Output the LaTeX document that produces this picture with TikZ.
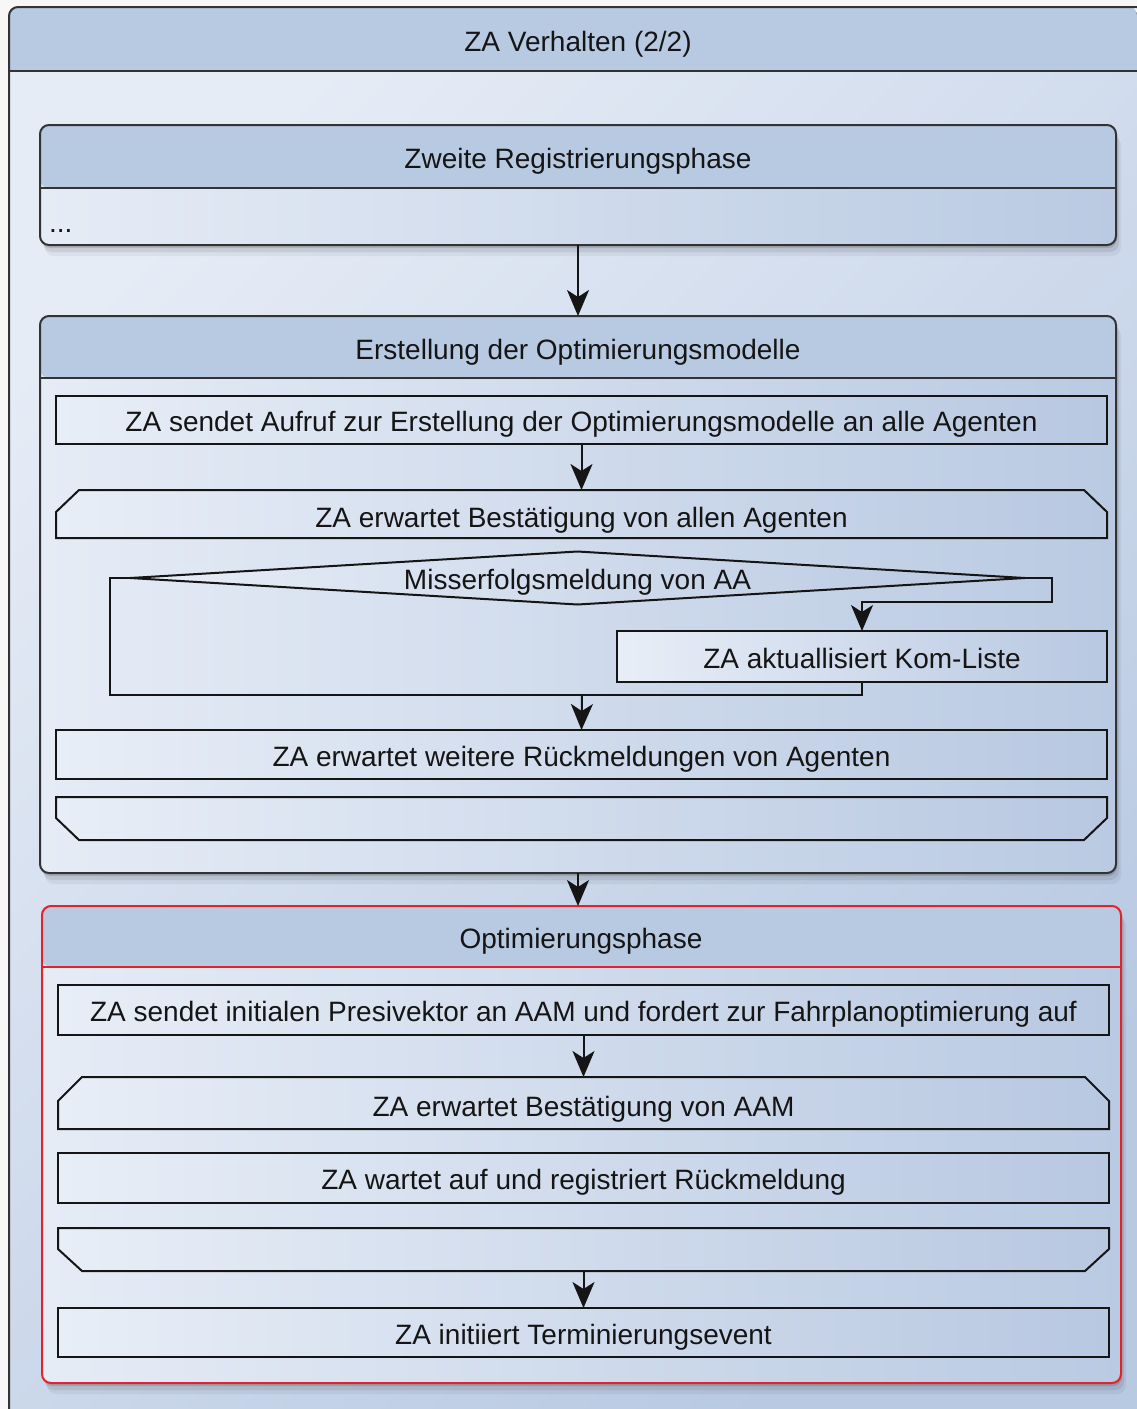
\documentclass[tikz,border=0pt]{standalone}
\usepackage{fontspec}
\setmainfont{Liberation Sans}
\usetikzlibrary{arrows.meta,shadows,shapes.geometric,calc}

\definecolor{headc}{HTML}{B8C9E2}
\definecolor{bodyL}{HTML}{E6ECF6}
\definecolor{bodyR}{HTML}{B9CAE2}
\definecolor{outL}{HTML}{E6ECF6}
\definecolor{outR}{HTML}{B8C9E2}
\definecolor{elL}{HTML}{E8EEF7}
\definecolor{elR}{HTML}{B8C8E1}
\definecolor{framec}{HTML}{333333}
\definecolor{redline}{HTML}{E0242C}
\definecolor{ink}{HTML}{151515}

\pgfdeclarelayer{back}
\pgfsetlayers{back,main}

\begin{document}
\begin{tikzpicture}[x=1pt,y=-1pt,
  every node/.style={inner sep=0pt, outer sep=0pt, text=ink,
    font=\fontsize{28}{32}\selectfont, text height=23pt, text depth=0pt},
  softshadow/.style={
    drop shadow={shadow xshift=1pt, shadow yshift=-3pt, opacity=.12, fill=black},
    drop shadow={shadow xshift=3pt, shadow yshift=-7pt, opacity=.08, fill=black},
    drop shadow={shadow xshift=5pt, shadow yshift=-11pt, opacity=.05, fill=black}},
  hdr/.style 2 args={path picture={
    \fill[headc] (path picture bounding box.north west)
      rectangle ([yshift=-#1]path picture bounding box.north east);
    \draw[#2, line width=2pt] ([yshift=-#1]path picture bounding box.north west)
      -- ([yshift=-#1]path picture bounding box.north east);}},
  grp/.style={rounded corners=9pt, draw=framec, line width=2pt,
    left color=bodyL, right color=bodyR, softshadow, anchor=north west},
  elem/.style={draw=ink, line width=2pt, left color=elL, right color=elR,
    anchor=north west, minimum width=1051pt, minimum height=#1},
  slot/.style={anchor=north west, minimum width=1051pt, minimum height=#1},
  chamf/.style={draw=ink, line width=2pt, left color=elL, right color=elR},
  conn/.style={draw=ink, line width=2pt},
  arr/.style={conn, -{Stealth[length=26pt, width=22pt, inset=7pt]}}
]
\useasboundingbox (0,0) rectangle (1137,1409);

\begin{pgfonlayer}{back}
  % page and outer frame
  \fill[white!97!black] (0,0) rectangle (1137,1409);
  \fill[top color=outL, bottom color=outR, shading angle=45]
    (9,1409) [rounded corners=9pt] -- (9,7) -- (1137,7) [sharp corners] -- (1137,1409) -- cycle;
  \fill[headc] (9,71) [rounded corners=9pt] -- (9,7) -- (1137,7) [sharp corners] -- (1137,71) -- cycle;
  \draw[framec, line width=2pt] (9,1409) [rounded corners=9pt] -- (9,7) -- (1137,7);
  \draw[framec, line width=2pt] (9,71) -- (1137,71);

  % phase frames
  \node (G1) [grp, hdr={63pt}{framec}, minimum width=1076pt, minimum height=120pt] at (40,125) {};
  \node (G2) [grp, hdr={62pt}{framec}, minimum width=1076pt, minimum height=557pt] at (40,316) {};
  \node (G3) [grp, draw=redline, hdr={61pt}{redline}, minimum width=1079pt, minimum height=477pt] at (42,906) {};
\end{pgfonlayer}

% titles
\node (Zt) at (578,40) {ZA Verhalten (2/2)};
\node (G1t) at (578,157) {Zweite Registrierungsphase};
\node (G1d) [anchor=base west, text height=0pt] at (49,232) {...};
\node (G2t) at (578,348) {Erstellung der Optimierungsmodelle};
\node (G3t) at (581,937) {Optimierungsphase};

% Erstellung der Optimierungsmodelle
\node (a1) [elem=48pt] at (56,396) {ZA sendet Aufruf zur Erstellung der Optimierungsmodelle an alle Agenten};
\node (a2) [slot=48pt, text height=26pt] at (56,490) {ZA erwartet Bestätigung von allen Agenten};
\node (d) [diamond, draw=ink, line width=2pt, left color=elL, right color=elR,
  aspect=17, minimum width=895pt, minimum height=53pt] at (577.5,578) {Misserfolgsmeldung von AA};
\node (a3) [elem=51pt, minimum width=490pt] at (617,631) {ZA aktuallisiert Kom-Liste};
\node (a4) [elem=49pt] at (56,730) {ZA erwartet weitere Rückmeldungen von Agenten};
\node (a5) [slot=43pt] at (56,797) {};

% Optimierungsphase
\node (b1) [elem=50pt] at (58,985) {ZA sendet initialen Presivektor an AAM und fordert zur Fahrplanoptimierung auf};
\node (b2) [slot=52pt, text height=26pt] at (58,1077) {ZA erwartet Bestätigung von AAM};
\node (b3) [elem=50pt] at (58,1153) {ZA wartet auf und registriert Rückmeldung};
\node (b4) [slot=43pt] at (58,1228) {};
\node (b5) [elem=49pt] at (58,1308) {ZA initiiert Terminierungsevent};

% accept/send signal outlines
\begin{pgfonlayer}{back}
  \path[chamf] (a2.south west) -- ([yshift=-22pt]a2.north west) -- ([xshift=23pt]a2.north west)
    -- ([xshift=-23pt]a2.north east) -- ([yshift=-22pt]a2.north east) -- (a2.south east) -- cycle;
  \path[chamf] (a5.north west) -- ([yshift=22pt]a5.south west) -- ([xshift=23pt]a5.south west)
    -- ([xshift=-23pt]a5.south east) -- ([yshift=22pt]a5.south east) -- (a5.north east) -- cycle;
  \path[chamf] (b2.south west) -- ([yshift=-24pt]b2.north west) -- ([xshift=24pt]b2.north west)
    -- ([xshift=-24pt]b2.north east) -- ([yshift=-24pt]b2.north east) -- (b2.south east) -- cycle;
  \path[chamf] (b4.north west) -- ([yshift=22pt]b4.south west) -- ([xshift=24pt]b4.south west)
    -- ([xshift=-24pt]b4.south east) -- ([yshift=22pt]b4.south east) -- (b4.north east) -- cycle;
\end{pgfonlayer}

% flow
\coordinate (dr) at (1052,602);
\coordinate (jl) at (110,695);
\coordinate (jm) at (582,695);

\draw[arr] (G1.south) -- (G2.north);
\draw[arr] (a1.south) -- (a2.north);
\draw[arr] (d.east) -| (dr) -| (a3.north);
\draw[conn] (d.west) -| (jl) -| (a3.south);
\draw[arr] (jm) -- (a4.north);
\draw[arr] (G2.south) -- (G2.south |- G3.north);
\draw[arr] (b1.south) -- (b2.north);
\draw[arr] (b4.south) -- (b5.north);
\end{tikzpicture}
\end{document}
